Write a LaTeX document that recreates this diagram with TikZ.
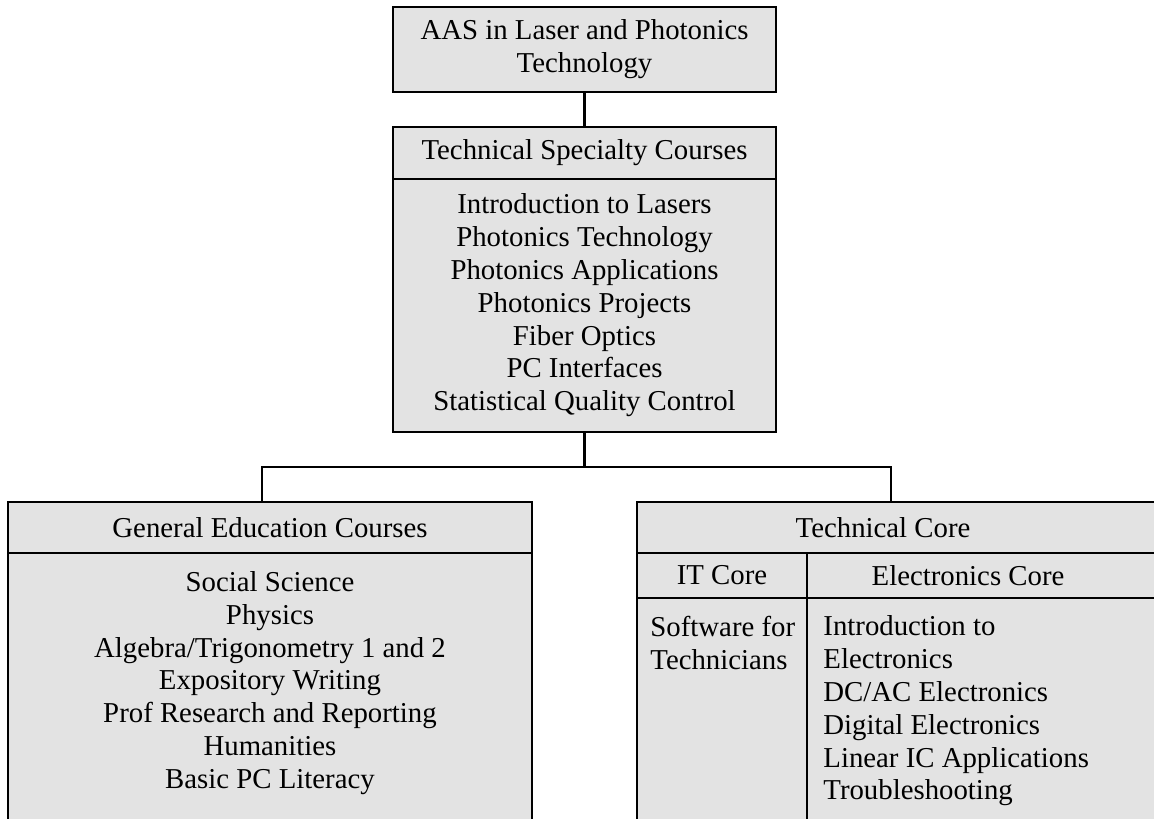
\documentclass[tikz,border=0pt]{standalone}
\usepackage{fontspec}
\setmainfont{Liberation Serif}
\definecolor{boxfill}{RGB}{227,227,227}
\newcommand\boxfs{\fontsize{14.4pt}{16.4pt}\selectfont}
\begin{document}
\begin{tikzpicture}[x=0.5pt,y=-0.5pt,
  box/.style={draw, line width=1.1pt, fill=boxfill, inner sep=0pt, align=center, font=\boxfs},
  txt/.style={inner sep=0pt, font=\boxfs},
  conn/.style={line width=1.1pt}]
\clip (0,0) rectangle (1154,818);
% top
\node[box, minimum width=191.5pt, minimum height=42.5pt] (aas) at (584.5,49.5) {AAS in Laser and Photonics\\Technology};
\node[box, minimum width=191.5pt, minimum height=26pt] (spechead) at (584.5,153) {Technical Specialty Courses};
\node[box, minimum width=191.5pt, minimum height=126.5pt] (specbody) at (584.5,305.5) {Introduction to Lasers\\Photonics Technology\\Photonics Applications\\Photonics Projects\\Fiber Optics\\PC Interfaces\\Statistical Quality Control};
% general education
\node[box, minimum width=262pt, minimum height=25.5pt] (genhead) at (270,527.5) {General Education Courses};
\node[box, minimum width=262pt, minimum height=143.5pt] (genbody) at (270,696.5) {};
\node[txt, align=center] (gentxt) at (270,683) {Social Science\\Physics\\Algebra/Trigonometry 1 and 2\\Expository Writing\\Prof Research and Reporting\\Humanities\\Basic PC Literacy};
% technical core
\node[box, minimum width=266.5pt, minimum height=25.5pt] (techhead) at (903.5,527.5) {};
\node[txt] (techtxt) at (883,527.5) {Technical Core};
\node[box, minimum width=85pt, minimum height=22.5pt] (ithead) at (722,575.5) {IT Core};
\node[box, minimum width=181.5pt, minimum height=22.5pt] (elhead) at (988.5,575.5) {};
\node[txt] (eltxt) at (968,575.5) {Electronics Core};
\node[box, minimum width=85pt, minimum height=121pt] (itbody) at (722,719) {};
\node[box, minimum width=181.5pt, minimum height=121pt] (elbody) at (988.5,719) {};
\node[txt, align=left, anchor=west] (ittxt) at (650,643) {Software for\\Technicians};
\node[txt, align=left, anchor=west] (eltxt2) at (823,711) {Introduction to\\Electronics\\DC/AC Electronics\\Digital Electronics\\Linear IC Applications\\Troubleshooting};
% connectors
\coordinate (j) at (584.5,467);
\coordinate (gdrop) at (262,502);
\coordinate (tdrop) at (891,502);
\draw[conn] (aas.south) -- (spechead.north);
\draw[conn] (specbody.south) -- (j);
\draw[conn] (gdrop) |- (j) -| (tdrop);
\end{tikzpicture}
\end{document}
